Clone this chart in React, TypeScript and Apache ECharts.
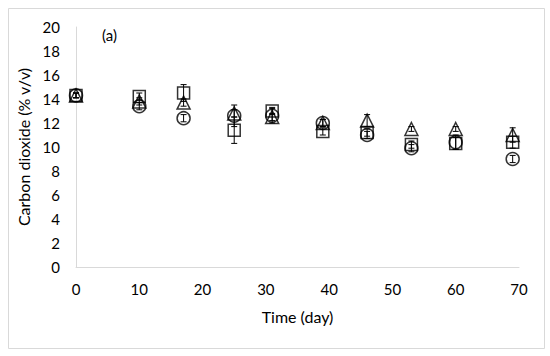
import React, { useEffect, useRef } from "react";
import * as echarts from "echarts";

const days = [0, 10, 17, 25, 31, 39, 46, 53, 60, 69];
const squareVals = [14.3, 14.2, 14.5, 11.4, 13.0, 11.3, 11.2, 10.2, 10.3, 10.4];
const squareErr = [0.2, 0.3, 0.7, 1.1, 0.3, 0.3, 0.3, 0.3, 0.5, 0.5];
const triangleVals = [14.3, 13.8, 13.7, 12.8, 12.5, 12.0, 12.2, 11.5, 11.5, 11.0];
const triangleErr = [0.2, 0.3, 0.3, 0.3, 0.3, 0.3, 0.5, 0.2, 0.2, 0.6];
const circleVals = [14.3, 13.4, 12.4, 12.6, 12.6, 12.0, 11.0, 9.9, 10.4, 9.0];
const circleErr = [0.2, 0.3, 0.3, 0.9, 0.6, 0.3, 0.3, 0.3, 0.6, 0.3];
const xTicks = [0, 70, 10];
const yTicks = [0, 20, 2];

const FONT = "Lato";

function errData(vals: number[], errs: number[]) {
  return days.map((d, i) => [d, vals[i] - errs[i], vals[i] + errs[i]]);
}

function errSeries(vals: number[], errs: number[]) {
  return {
    type: "custom",
    silent: true,
    z: 1,
    data: errData(vals, errs),
    renderItem: (params: any, api: any) => {
      const x = api.value(0);
      const lo = api.coord([x, api.value(1)]);
      const hi = api.coord([x, api.value(2)]);
      const w = 3;
      const style = { stroke: "#000", lineWidth: 1 };
      return {
        type: "group",
        children: [
          { type: "line", shape: { x1: lo[0], y1: lo[1], x2: hi[0], y2: hi[1] }, style },
          { type: "line", shape: { x1: lo[0] - w, y1: lo[1], x2: lo[0] + w, y2: lo[1] }, style },
          { type: "line", shape: { x1: hi[0] - w, y1: hi[1], x2: hi[0] + w, y2: hi[1] }, style },
        ],
      };
    },
  };
}

function scatter(vals: number[], symbol: string, size: number) {
  return {
    type: "scatter",
    symbol,
    symbolSize: size,
    z: 2,
    data: days.map((d, i) => [d, vals[i]]),
    itemStyle: { color: "rgba(0,0,0,0)", borderColor: "#000", borderWidth: 1.5 },
  };
}

export default function App() {
  const ref = useRef<HTMLDivElement>(null);
  useEffect(() => {
    if (!ref.current) return;
    const chart = echarts.init(ref.current, null, { renderer: "svg" });
    chart.setOption({
      animation: false,
      backgroundColor: "#fff",
      grid: { left: 76, right: 31, top: 27, bottom: 89 },
      graphic: [
        {
          type: "rect",
          shape: { x: 8.5, y: 8.5, width: 536, height: 340 },
          style: { fill: "none", stroke: "#d9d9d9", lineWidth: 1 },
          silent: true,
        },
        {
          type: "text",
          x: 102,
          y: 27,
          style: { text: "(a)", font: `15px ${FONT}`, fill: "#000" },
        },
      ],
      xAxis: {
        type: "value",
        min: xTicks[0],
        max: xTicks[1],
        interval: xTicks[2],
        name: "Time (day)",
        nameLocation: "middle",
        nameGap: 41,
        nameTextStyle: { fontFamily: FONT, fontSize: 16, color: "#000" },
        axisLine: { show: true, lineStyle: { color: "#d9d9d9", width: 1 } },
        axisTick: { show: false },
        splitLine: { show: false },
        axisLabel: { fontFamily: FONT, fontSize: 15, color: "#000", margin: 14 },
      },
      yAxis: {
        type: "value",
        min: yTicks[0],
        max: yTicks[1],
        interval: yTicks[2],
        name: "Carbon dioxide (% v/v)",
        nameLocation: "middle",
        nameGap: 35,
        nameTextStyle: { fontFamily: FONT, fontSize: 16, color: "#000" },
        axisLine: { show: true, lineStyle: { color: "#d9d9d9", width: 1 } },
        axisTick: { show: false },
        splitLine: { show: false },
        axisLabel: { fontFamily: FONT, fontSize: 15, color: "#000", margin: 16 },
      },
      series: [
        errSeries(squareVals, squareErr),
        errSeries(triangleVals, triangleErr),
        errSeries(circleVals, circleErr),
        scatter(squareVals, "rect", 12),
        scatter(triangleVals, "triangle", 13),
        scatter(circleVals, "circle", 13),
      ],
    });
    return () => chart.dispose();
  }, []);
  return (
    <div
      ref={ref}
      style={{ position: "absolute", left: 0, top: 0, width: 550, height: 356 }}
    />
  );
}
